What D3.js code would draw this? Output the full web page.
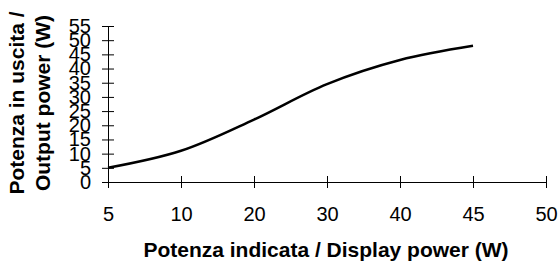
<!DOCTYPE html>
<html>
<head>
<meta charset="utf-8">
<script src="https://cdn.jsdelivr.net/npm/d3@7"></script>
<style>
  body { margin: 0; background: #fff; }
  text { font-family: Arial, "Liberation Sans", sans-serif; }
</style>
</head>
<body>
<script>
// categories on the x axis (evenly spaced, not linear)
var categories = ["5", "10", "20", "30", "40", "45", "50"];
// output power (no value for 50)
var outputPower = [5, 11, 22, 34.5, 43, 48];
var yTicks = [0, 5, 10, 15, 20, 25, 30, 35, 40, 45, 50, 55];

var w = 558;
var h = 261;

var svg = d3.select("body")
    .append("svg")
    .attr("width", w)
    .attr("height", h);

var x = d3.scalePoint()
    .domain(categories)
    .range([108, 546]);

var y = d3.scaleLinear()
    .domain([0, 55])
    .range([182, 26]);

// y axis, ticks crossing the line
var yAxis = svg.append("g")
    .attr("transform", "translate(108,0)")
    .call(d3.axisLeft(y).tickValues(yTicks).tickSize(0).tickPadding(17));
yAxis.select(".domain").attr("stroke", "#000");
yAxis.selectAll(".tick line").remove();
yAxis.selectAll(".tick").append("line")
    .attr("x1", -6).attr("x2", 6)
    .attr("stroke", "#000");
yAxis.selectAll("text")
    .attr("font-size", "20px")
    .attr("fill", "#000")
    .attr("font-family", "Arial, 'Liberation Sans', sans-serif");

// x axis
var xAxis = svg.append("g")
    .attr("transform", "translate(0,182)")
    .call(d3.axisBottom(x).tickSize(0).tickPadding(25));
xAxis.select(".domain").attr("stroke", "#000");
xAxis.selectAll(".tick line").remove();
xAxis.selectAll(".tick").append("line")
    .attr("y1", -6).attr("y2", 6)
    .attr("stroke", "#000");
xAxis.selectAll("text")
    .attr("font-size", "20px")
    .attr("fill", "#000")
    .attr("font-family", "Arial, 'Liberation Sans', sans-serif");

// the smoothed line
var line = d3.line()
    .x(function(d, i) { return x(categories[i]); })
    .y(function(d) { return y(d); })
    .curve(d3.curveCatmullRom.alpha(0.5));

svg.append("path")
    .datum(outputPower)
    .attr("d", line)
    .attr("fill", "none")
    .attr("stroke", "#000")
    .attr("stroke-width", 2.5);

// axis titles
svg.append("text")
    .attr("x", 326)
    .attr("y", 257)
    .attr("text-anchor", "middle")
    .attr("font-size", "21px")
    .attr("font-weight", "bold")
    .text("Potenza indicata / Display power (W)");

var yTitle = svg.append("text")
    .attr("transform", "translate(24,103) rotate(-90)")
    .attr("text-anchor", "middle")
    .attr("font-size", "21px")
    .attr("font-weight", "bold");
yTitle.append("tspan").attr("x", 0).attr("y", 0).text("Potenza in uscita /");
yTitle.append("tspan").attr("x", 0).attr("y", 26).text("Output power (W)");
</script>
</body>
</html>
